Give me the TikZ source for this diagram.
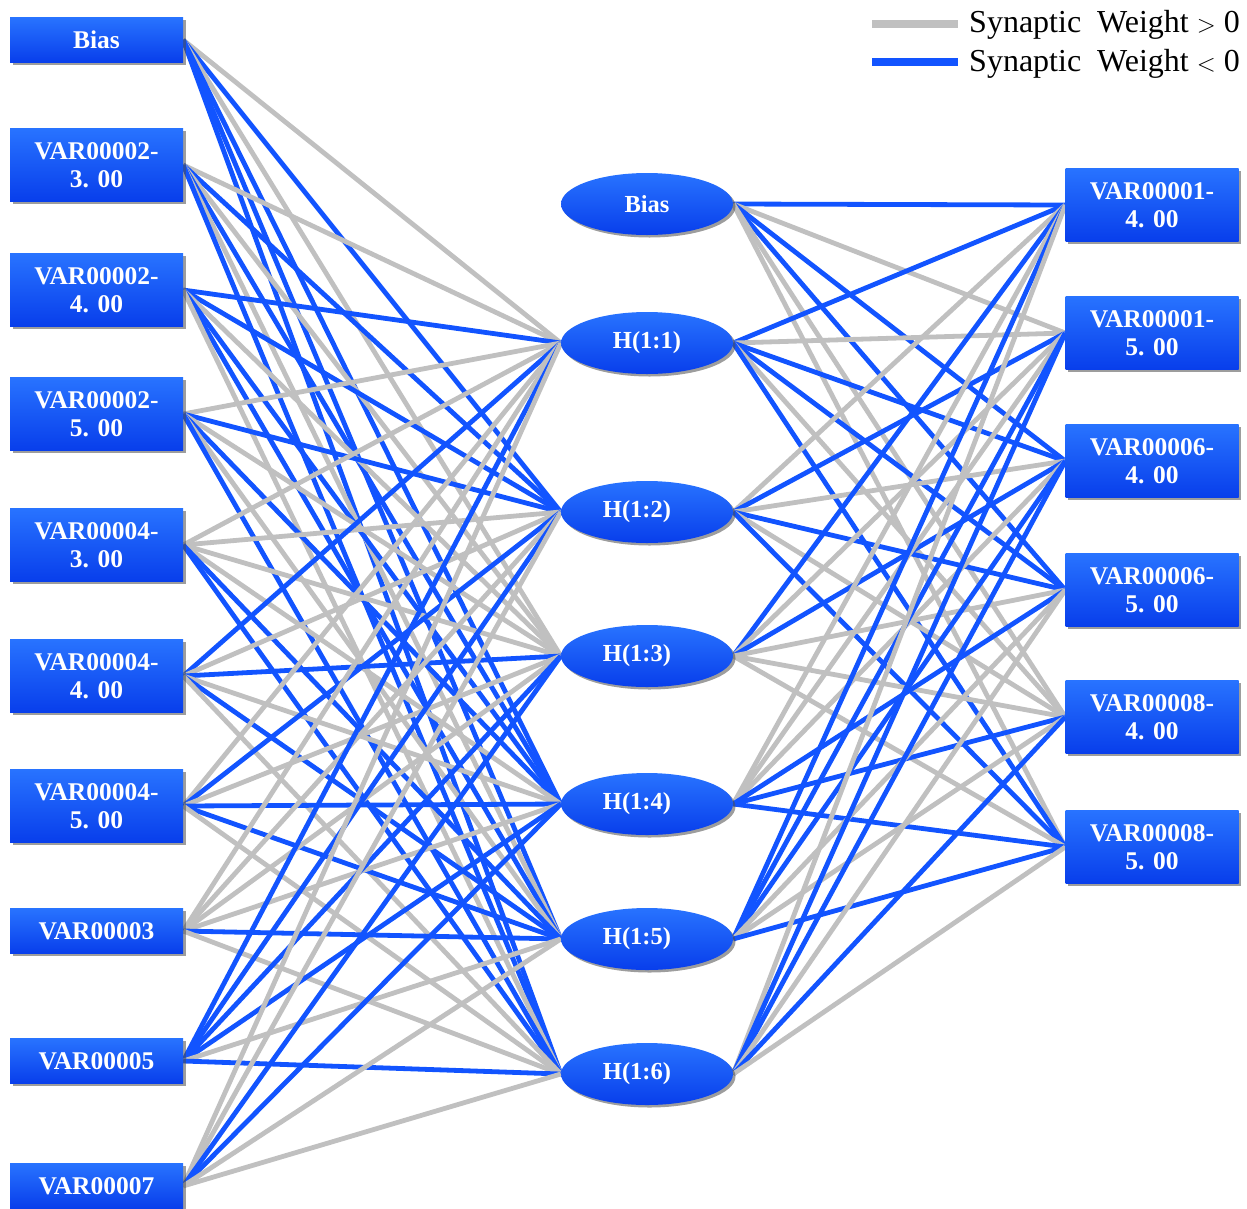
\documentclass[tikz,border=0pt]{standalone}
\usepackage{fontspec}
\setmainfont{Liberation Serif}
\usetikzlibrary{shapes.geometric,shadows}
\definecolor{wblue}{RGB}{18,84,255}
\definecolor{wgray}{RGB}{192,192,192}
\definecolor{ntop}{RGB}{40,115,255}
\definecolor{nbot}{RGB}{8,62,235}
\pgfdeclarelayer{bg}
\pgfsetlayers{bg,main}
\tikzset{
  nbox/.style={rectangle, minimum width=173pt, inner sep=0pt, top color=ntop, bottom color=nbot,
     text=white, font=\bfseries\fontsize{25.5}{28.5}\selectfont, align=center,
     drop shadow={shadow xshift=2.5pt, shadow yshift=-2.5pt, fill=black!70, opacity=.55}},
  tall/.style={nbox, minimum height=73pt},
  short/.style={nbox, minimum height=45pt},
  hid/.style={ellipse, minimum width=172pt, minimum height=62pt, inner sep=0pt, top color=ntop, bottom color=nbot,
     text=white, font=\bfseries\fontsize{24.5}{28}\selectfont,
     drop shadow={shadow xshift=2.5pt, shadow yshift=-2.5pt, fill=black!70, opacity=.55}},
  b/.style={wblue, line width=4.8pt},
  g/.style={wgray, line width=4.8pt},
  legtxt/.style={font=\fontsize{32}{36}\selectfont, anchor=west, inner sep=0pt}
}
\begin{document}
\begin{tikzpicture}[x=1pt,y=-1pt]
\useasboundingbox (0,0) rectangle (1247,1208);
% inputs
\node[short] (i0) at (96.5,40) {Bias};
\node[tall] (i1) at (96.5,165) {VAR00002-\\3. 00};
\node[tall] (i2) at (96.5,290) {VAR00002-\\4. 00};
\node[tall] (i3) at (96.5,414) {VAR00002-\\5. 00};
\node[tall] (i4) at (96.5,545) {VAR00004-\\3. 00};
\node[tall] (i5) at (96.5,676) {VAR00004-\\4. 00};
\node[tall] (i6) at (96.5,806) {VAR00004-\\5. 00};
\node[short] (i7) at (96.5,931) {VAR00003};
\node[short] (i8) at (96.5,1061) {VAR00005};
\node[short] (i9) at (96.5,1186) {VAR00007};
% hidden
\node[hid] (hb) at (647,204) {Bias};
\node[hid] (h1) at (647,343) {H(1:1)};
\node[hid] (h2) at (647,512) {H(1:2)\kern20pt};
\node[hid] (h3) at (647,656) {H(1:3)\kern20pt};
\node[hid] (h4) at (647,804) {H(1:4)\kern20pt};
\node[hid] (h5) at (647,939) {H(1:5)\kern20pt};
\node[hid] (h6) at (647,1074) {H(1:6)\kern20pt};
% outputs
\node[tall] (o1) at (1152,205) {VAR00001-\\4. 00};
\node[tall] (o2) at (1152,333) {VAR00001-\\5. 00};
\node[tall] (o3) at (1152,461) {VAR00006-\\4. 00};
\node[tall] (o4) at (1152,590) {VAR00006-\\5. 00};
\node[tall] (o5) at (1152,717) {VAR00008-\\4. 00};
\node[tall] (o6) at (1152,847) {VAR00008-\\5. 00};
% legend
\coordinate (lg1) at (872,24); \coordinate (lg2) at (958,24);
\coordinate (lb1) at (872,62); \coordinate (lb2) at (958,62);
\draw[wgray, line width=8pt] (lg1) -- (lg2);
\draw[wblue, line width=8pt] (lb1) -- (lb2);
\node[legtxt] (lt1) at (969,25) {Synaptic\ \ Weight $>$ 0};
\node[legtxt] (lt2) at (969,64) {Synaptic\ \ Weight $<$ 0};
\begin{pgfonlayer}{bg}
\foreach \s/\l in {i0/{g,b,g,b,b,b}, i1/{g,b,g,b,g,b}, i2/{b,b,g,b,b,g}, i3/{g,b,g,b,g,b},
                   i4/{g,g,g,g,b,b}, i5/{b,g,b,g,b,g}, i6/{g,b,g,b,b,g}, i7/{g,g,g,g,b,g},
                   i8/{b,b,b,b,g,b}, i9/{g,g,b,b,g,g}}{
  \foreach \c [count=\j] in \l { \draw[\c] (\s.east) -- (h\j.west); }
}
\foreach \s/\l in {hb/{b,g,b,b,g,g}, h1/{b,g,b,b,g,b}, h2/{g,b,g,b,g,b}, h3/{b,g,b,g,g,g},
                   h4/{g,g,g,b,b,b}, h5/{b,b,b,g,g,b}, h6/{g,b,b,g,b,g}}{
  \foreach \c [count=\j] in \l { \draw[\c] (\s.east) -- (o\j.west); }
}
\end{pgfonlayer}
\end{tikzpicture}
\end{document}
